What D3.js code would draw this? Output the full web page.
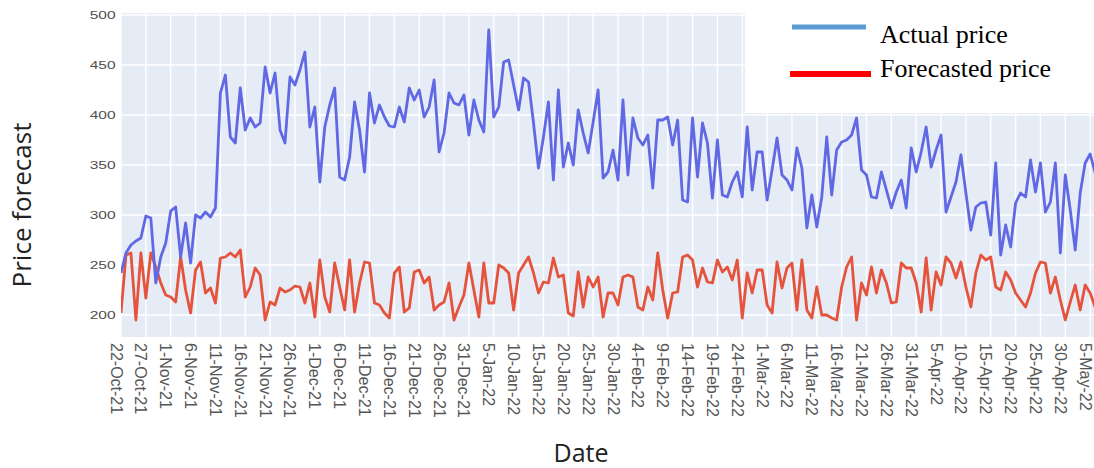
<!DOCTYPE html>
<html><head><meta charset="utf-8">
<script src="https://cdn.jsdelivr.net/npm/d3@7"></script>
<style>body{margin:0;background:#fff;overflow:hidden}</style>
</head><body>
<script>
// ---------------- DATA ----------------
const startDate = "22-Oct-21"; // first daily observation
const actualPrice = [
242,262,270,274,277,299,297,232,258,272,304,308,258,292,252,300,297,303,298,307,
422,440,378,372,427,385,397,388,392,448,422,442,385,372,438,430,445,463,388,408,
333,388,410,427,338,335,358,413,385,343,422,392,410,398,389,388,408,393,427,415,
425,398,408,435,363,382,422,412,410,420,380,415,395,383,485,398,408,453,455,430,
405,437,433,392,347,378,413,335,425,348,372,350,405,382,362,393,425,337,343,365,
335,415,340,397,377,370,380,327,395,395,398,370,395,315,313,397,338,392,372,317,
375,320,318,333,343,318,388,325,363,363,315,345,377,340,335,325,367,347,287,320,
288,318,378,320,365,373,375,380,397,345,340,318,317,343,325,307,323,335,307,367,
343,363,388,348,365,380,303,318,333,360,322,285,308,312,313,280,352,260,290,268,
312,322,318,355,323,352,303,313,352,262,340,305,265,322,352,361,342
];
const forecastedPrice = [
202,260,262,195,262,217,262,248,232,220,218,213,258,225,202,245,253,222,227,212,
257,258,262,258,265,218,228,247,240,195,213,210,227,223,225,229,228,212,232,198,
255,218,203,252,228,205,255,203,232,253,252,212,210,202,197,242,248,203,207,243,
245,232,238,205,210,213,232,195,208,220,252,225,198,252,212,212,250,247,242,205,
242,250,258,242,222,233,232,257,238,240,202,199,243,208,238,228,238,198,222,222,
210,238,240,238,208,205,228,215,262,225,197,222,223,258,260,255,228,247,233,232,
255,243,248,235,255,197,242,222,245,245,210,202,253,227,247,252,205,255,205,197,
228,200,200,197,195,228,248,258,195,232,220,248,222,245,232,212,213,252,247,247,
232,203,257,205,243,230,258,252,237,253,228,208,242,260,255,258,228,225,243,235,
222,215,208,222,242,253,252,222,238,215,195,213,230,205,230,222,208
];
const xTickLabels = [
"22-Oct-21","27-Oct-21","1-Nov-21","6-Nov-21","11-Nov-21","16-Nov-21","21-Nov-21","26-Nov-21",
"1-Dec-21","6-Dec-21","11-Dec-21","16-Dec-21","21-Dec-21","26-Dec-21","31-Dec-21",
"5-Jan-22","10-Jan-22","15-Jan-22","20-Jan-22","25-Jan-22","30-Jan-22",
"4-Feb-22","9-Feb-22","14-Feb-22","19-Feb-22","24-Feb-22",
"1-Mar-22","6-Mar-22","11-Mar-22","16-Mar-22","21-Mar-22","26-Mar-22","31-Mar-22",
"5-Apr-22","10-Apr-22","15-Apr-22","20-Apr-22","25-Apr-22","30-Apr-22","5-May-22"
];
const yTickValues = [200,250,300,350,400,450,500];
const seriesNames = ["Actual price","Forecasted price"];
const axisTitles = {x:"Date", y:"Price forecast"};

// ---------------- CHART ----------------
const W = 1094, H = 468;
const plot = {left:121, right:1094, top:13, bottom:337};
const pxPerDay = 4.97;
const parse = d3.utcParse("%d-%b-%y");
const t0 = parse(startDate);
const dates = actualPrice.map((_, i) => d3.utcDay.offset(t0, i));
const tickDates = xTickLabels.map(s => parse(s));

const x = d3.scaleUtc()
  .domain([t0, d3.utcDay.offset(t0, 196)])
  .range([plot.left, plot.left + 196 * pxPerDay]);
const y = d3.scaleLinear().domain([178, 502]).range([plot.bottom, plot.top]);

const svg = d3.select("body").append("svg")
  .attr("width", W).attr("height", H)
  .style("font-family", "'DejaVu Sans', Verdana, sans-serif");

svg.append("defs").append("clipPath").attr("id","clip")
  .append("rect").attr("x", plot.left).attr("y", plot.top)
  .attr("width", plot.right - plot.left).attr("height", plot.bottom - plot.top);

// plot background
svg.append("rect").attr("x", plot.left).attr("y", plot.top)
  .attr("width", plot.right - plot.left).attr("height", plot.bottom - plot.top)
  .attr("fill", "#E5ECF6");

// grid
const grid = svg.append("g").attr("clip-path","url(#clip)");
grid.selectAll("line.v").data(tickDates).join("line")
  .attr("x1", d => x(d)).attr("x2", d => x(d))
  .attr("y1", plot.top).attr("y2", plot.bottom)
  .attr("stroke", "#fff").attr("stroke-width", 1.4);
grid.selectAll("line.h").data(yTickValues).join("line")
  .attr("x1", plot.left).attr("x2", plot.right)
  .attr("y1", d => y(d)).attr("y2", d => y(d))
  .attr("stroke", "#fff").attr("stroke-width", 1.4);

// lines
const line = d3.line().x((d, i) => x(dates[i])).y(d => y(d));
const lines = svg.append("g").attr("clip-path","url(#clip)");
lines.append("path").datum(forecastedPrice).attr("d", line)
  .attr("fill","none").attr("stroke","#E5533D").attr("stroke-width",2.8)
  .attr("stroke-linejoin","round");
lines.append("path").datum(actualPrice).attr("d", line)
  .attr("fill","none").attr("stroke","#6068E4").attr("stroke-width",2.8)
  .attr("stroke-linejoin","round");

// y axis
const yAxis = svg.append("g").attr("transform", `translate(${plot.left},0)`)
  .call(d3.axisLeft(y).tickValues(yTickValues).tickSize(0).tickPadding(4));
yAxis.select(".domain").remove();
yAxis.selectAll("text")
  .attr("fill", "#505050").style("font-size", "11.5px")
  .attr("transform", "scale(1.35,1)");

// x axis
const xAxis = svg.append("g").attr("transform", `translate(0,${plot.bottom})`)
  .call(d3.axisBottom(x).tickValues(tickDates).tickSize(0)
        .tickFormat((d, i) => xTickLabels[i]));
xAxis.select(".domain").remove();
xAxis.selectAll("text")
  .attr("fill", "#555").style("font-size", "16px")
  .attr("text-anchor", "start")
  .attr("dy", 0).attr("x", 6).attr("y", 11)
  .attr("transform", "rotate(90)");

// axis titles
svg.append("text").text(axisTitles.y)
  .attr("transform", "translate(31,205) rotate(-90)")
  .attr("text-anchor", "middle")
  .style("font-family", "'Open Sans', sans-serif").style("font-size", "26px")
  .attr("fill", "#222");
svg.append("text").text(axisTitles.x)
  .attr("x", 581).attr("y", 462).attr("text-anchor", "middle")
  .style("font-family", "'Open Sans', sans-serif").style("font-size", "25px")
  .attr("fill", "#222");

// legend (white panel over the top-right of the plot)
svg.append("rect").attr("x", 745).attr("y", 0).attr("width", W - 745).attr("height", 113)
  .attr("fill", "#fff");
const legend = [
  {name: seriesNames[0], color: "#5B9BD5", x1: 792, x2: 866, ly: 27, ty: 43, w: 5},
  {name: seriesNames[1], color: "#FF0000", x1: 790, x2: 871, ly: 74, ty: 77, w: 6}
];
const lg = svg.append("g");
lg.selectAll("line").data(legend).join("line")
  .attr("x1", d => d.x1).attr("x2", d => d.x2)
  .attr("y1", d => d.ly).attr("y2", d => d.ly)
  .attr("stroke", d => d.color).attr("stroke-width", d => d.w);
lg.selectAll("text").data(legend).join("text")
  .text(d => d.name)
  .attr("x", 880).attr("y", d => d.ty)
  .style("font-family", "'Liberation Serif', 'Times New Roman', serif")
  .style("font-size", "26px").attr("fill", "#000");
</script>
</body></html>
